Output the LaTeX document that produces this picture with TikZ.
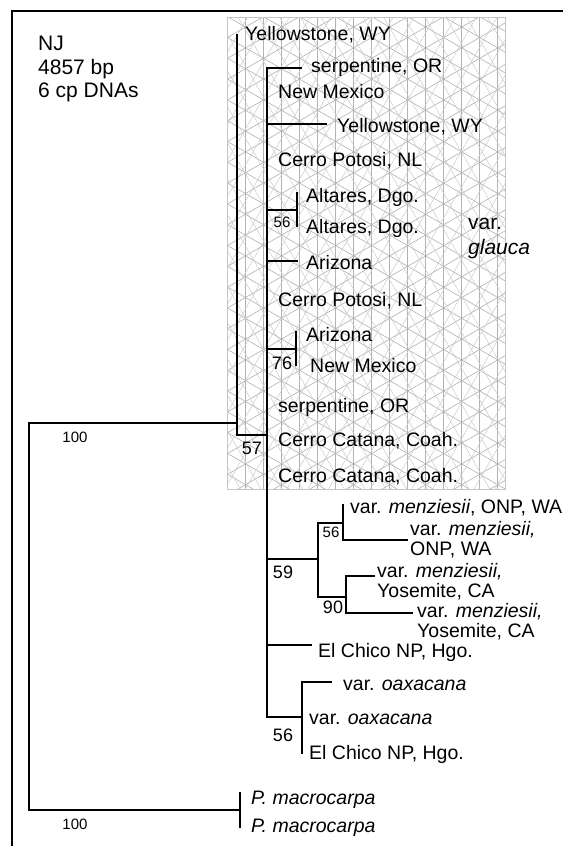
\documentclass[tikz,border=0pt]{standalone}
\usepackage{fontspec}
\setmainfont{Liberation Sans}
\begin{document}
\begin{tikzpicture}[x=1pt,y=-1pt,
  br/.style={line width=1.8pt, line cap=rect},
  lab/.style={anchor=base west, inner sep=0pt, font=\fontsize{19.5}{21}\selectfont},
  labi/.style={lab, font=\fontsize{19.5}{21}\selectfont\itshape},
  hd/.style={anchor=base west, inner sep=0pt, font=\fontsize{21}{23}\selectfont},
  bs/.style={inner sep=0pt, font=\fontsize{15}{16}\selectfont},
  bsl/.style={inner sep=0pt, font=\fontsize{18}{19}\selectfont},
  pat/.style={gray!60, line width=0.6pt},
  pat2/.style={gray!40, line width=0.5pt}]
\useasboundingbox (0,0) rectangle (563,846);
\fill[white] (0,0) rectangle (563,846);
% shaded box
\begin{scope}
\clip (227,17) rectangle (505,489);
\foreach \x in {227,245,...,505} \draw[pat] (\x,17) -- (\x,489);
\foreach \b in {-150,-129.2,...,489} \draw[pat] (227,\b) -- (505,\b+160.5);
\foreach \b in {17,37.8,...,660} \draw[pat] (227,\b) -- (505,\b-160.5);
\foreach \b in {-470,-434,...,489} \draw[pat2] (227,\b) -- (505,\b+481.5);
\foreach \b in {17,53,...,980} \draw[pat2] (227,\b) -- (505,\b-481.5);
\end{scope}
\draw[gray!45, line width=0.5pt] (227,17) rectangle (505,489);
% frame
\draw[line width=2pt] (12,846) -- (12,11) -- (563,11);
% header
\node[hd] (h1) at (38,50.5) {NJ};
\node[hd] (h2) at (38,74.5) {4857 bp};
\node[hd] (h3) at (38,97.5) {6 cp DNAs};
% coordinates
\coordinate (r) at (29,423);
\coordinate (rb) at (29,810);
\coordinate (mac) at (240,810);
\coordinate (mact) at (240,793);
\coordinate (macb) at (240,827);
\coordinate (a) at (237,423);
\coordinate (at) at (237,35);
\coordinate (ab) at (237,435);
\coordinate (b) at (267,435);
\coordinate (bt) at (267,68);
\coordinate (bb) at (267,717);
% root
\draw[br] (r) -- (rb) -- (mac);
\draw[br] (r) -- (a);
\draw[br] (mact) -- (macb);
\node[labi] (m1) at (251,804) {P. macrocarpa};
\node[labi] (m2) at (251,832) {P. macrocarpa};
\node[bs] (b100a) at (75,437) {100};
\node[bs] (b100b) at (75,824) {100};
% node A
\draw[br] (at) -- (ab) -- (b);
\node[lab] (l1) at (245,40) {Yellowstone, WY};
\node[bsl] (b57) at (252,448) {57};
% node B
\draw[br] (bt) -- (bb);
\coordinate (t2) at (301,68);
\draw[br] (bt) -- (t2);
\node[lab] (l2) at (311,72) {serpentine, OR};
\node[lab] (l3) at (278,98) {New Mexico};
\coordinate (s4) at (267,124); \coordinate (t4) at (326,124);
\draw[br] (s4) -- (t4);
\node[lab] (l4) at (337,132) {Yellowstone, WY};
\node[lab] (l5) at (278,166) {Cerro Potosi, NL};
\coordinate (s6) at (267,210); \coordinate (n6) at (297,210);
\coordinate (n6t) at (297,193); \coordinate (n6b) at (297,226);
\draw[br] (s6) -- (n6); \draw[br] (n6t) -- (n6b);
\node[lab] (l6) at (306,202) {Altares, Dgo.};
\node[lab] (l7) at (306,233) {Altares, Dgo.};
\node[bs] (b56a) at (282,222) {56};
\coordinate (s8) at (267,261); \coordinate (t8) at (297,261);
\draw[br] (s8) -- (t8);
\node[lab] (l8) at (306,269) {Arizona};
\node[lab] (l9) at (278,306) {Cerro Potosi, NL};
\coordinate (s10) at (267,349); \coordinate (n10) at (296,349);
\coordinate (n10t) at (296,332); \coordinate (n10b) at (296,365);
\draw[br] (s10) -- (n10); \draw[br] (n10t) -- (n10b);
\node[lab] (l10) at (306,341) {Arizona};
\node[lab] (l11) at (310,372) {New Mexico};
\node[bsl] (b76) at (282,363) {76};
\node[lab] (l12) at (278,412) {serpentine, OR};
\node[lab] (l13) at (278,446) {Cerro Catana, Coah.};
\node[lab] (l14) at (278,482) {Cerro Catana, Coah.};
\node[hd] (vg1) at (468,229.5) {var.};
\node[hd,font=\fontsize{21}{23}\selectfont\itshape] (vg2) at (468,254.5) {glauca};
% menziesii clade
\coordinate (s15) at (267,559); \coordinate (n15) at (318,559);
\coordinate (n15t) at (318,523); \coordinate (n15b) at (318,597);
\draw[br] (s15) -- (n15); \draw[br] (n15t) -- (n15b);
\node[bsl] (b59) at (283,572) {59};
\coordinate (n16) at (343,523); \coordinate (n16t) at (343,505); \coordinate (n16b) at (343,540);
\coordinate (t16) at (407,540);
\draw[br] (n15t) -- (n16); \draw[br] (n16t) -- (n16b) -- (t16);
\node[bs] (b56b) at (331,532) {56};
\node[lab] (l15) at (350,513) {var. \textit{menziesii}, ONP, WA};
\node[lab] (l16a) at (410,535) {var. \textit{menziesii,}};
\node[lab] (l16b) at (410,555) {ONP, WA};
\coordinate (n17) at (346,597); \coordinate (n17t) at (346,576); \coordinate (n17b) at (346,613);
\coordinate (t17) at (374,576); \coordinate (t18) at (412,613);
\draw[br] (n15b) -- (n17); \draw[br] (t17) -- (n17t) -- (n17b) -- (t18);
\node[bsl] (b90) at (333,607) {90};
\node[lab] (l17a) at (377,577) {var. \textit{menziesii,}};
\node[lab] (l17b) at (377,597) {Yosemite, CA};
\node[lab] (l18a) at (417,617) {var. \textit{menziesii,}};
\node[lab] (l18b) at (417,637) {Yosemite, CA};
% El Chico
\coordinate (s19) at (267,645); \coordinate (t19) at (311,645);
\draw[br] (s19) -- (t19);
\node[lab] (l19) at (318,657) {El Chico NP, Hgo.};
% oaxacana
\coordinate (n20) at (302,717); \coordinate (n20t) at (302,682); \coordinate (n20b) at (302,753);
\coordinate (t20) at (331,682);
\draw[br] (bb) -- (n20); \draw[br] (t20) -- (n20t) -- (n20b);
\node[lab] (l20) at (343,690) {var. \textit{oaxacana}};
\node[lab] (l21) at (309,724) {var. \textit{oaxacana}};
\node[lab] (l22) at (309,759) {El Chico NP, Hgo.};
\node[bsl] (b56c) at (283,735) {56};
\end{tikzpicture}
\end{document}
